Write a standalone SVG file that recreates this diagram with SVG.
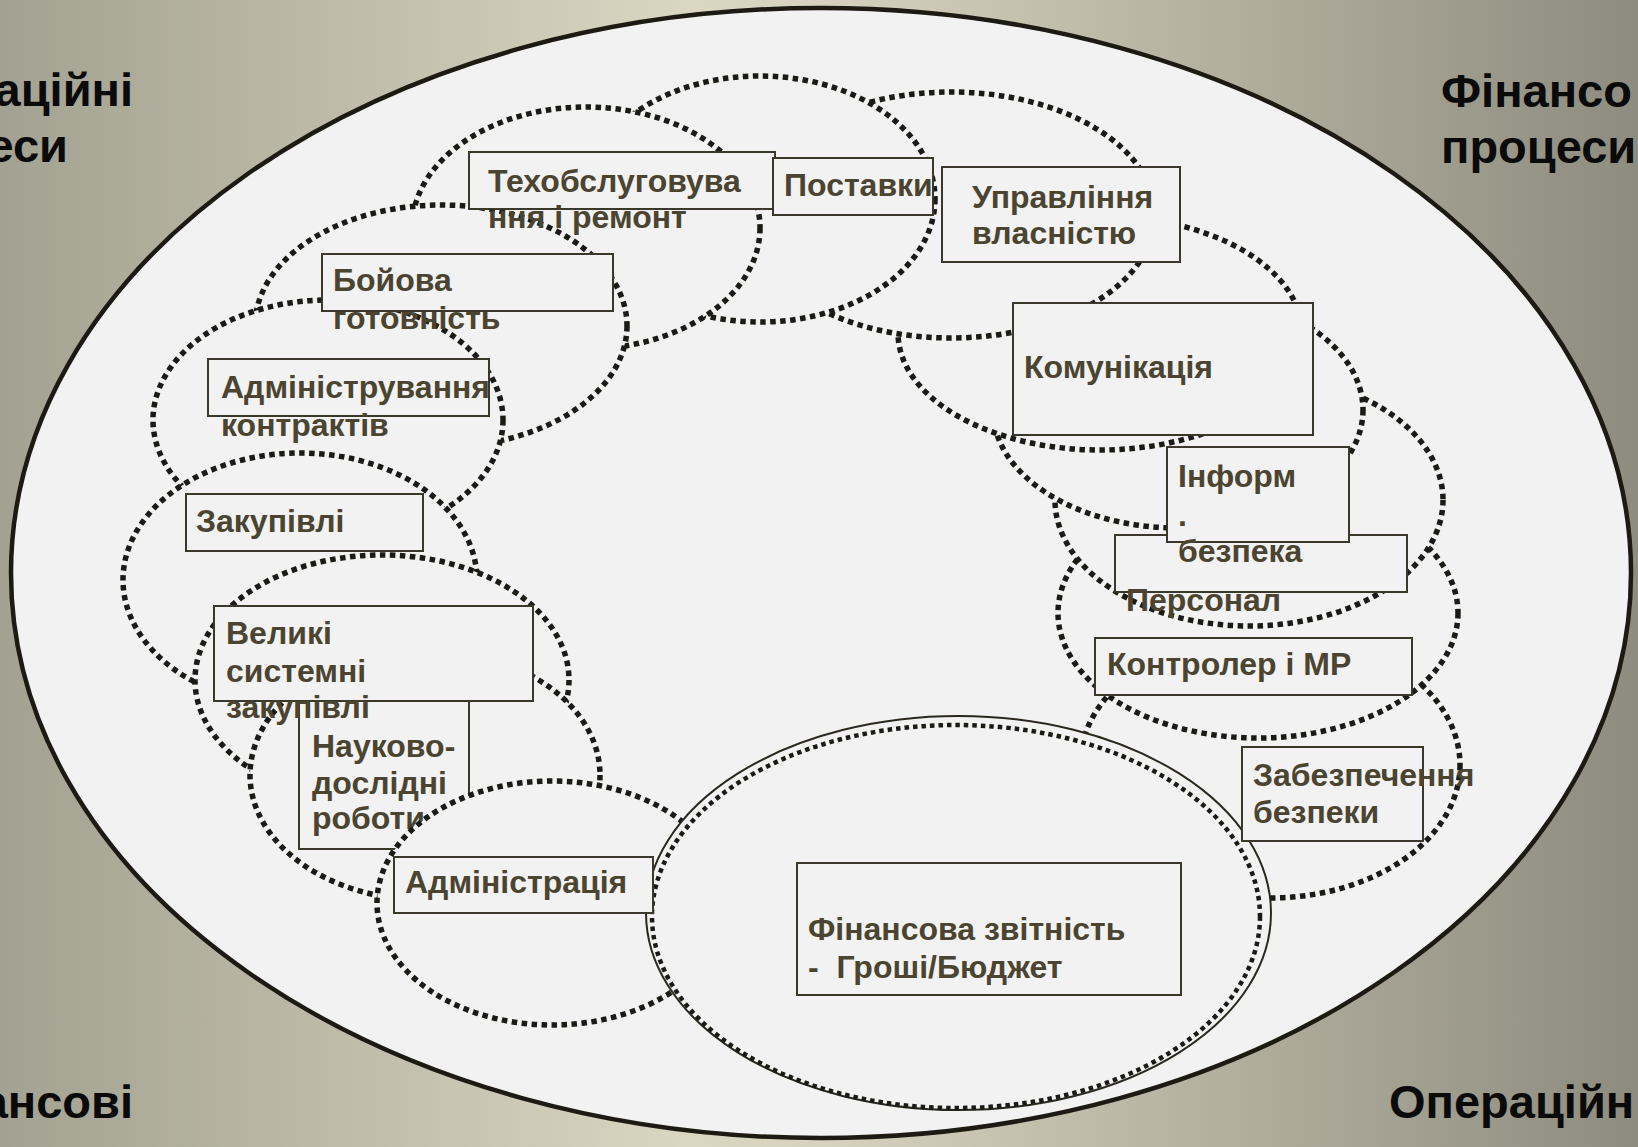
<svg xmlns="http://www.w3.org/2000/svg" width="1638" height="1147" viewBox="0 0 1638 1147">
<defs>
<linearGradient id="bg" x1="0" y1="0" x2="1" y2="0">
<stop offset="0" stop-color="#A3A191"/>
<stop offset="0.42" stop-color="#DAD6C2"/>
<stop offset="0.5" stop-color="#D6D2BE"/>
<stop offset="1" stop-color="#8E8C7F"/>
</linearGradient>
<style>
.ring{fill:#F2F2F2;stroke:#1A1A16;stroke-width:5.5;stroke-dasharray:5.5 4.5}
.box{fill:#F2F2F2;stroke:#3A382A;stroke-width:2}
.t{font-family:'Liberation Sans',Arial,sans-serif;font-weight:bold;font-size:32px;fill:#4A4430}
.corner{font-family:'Liberation Sans',Arial,sans-serif;font-weight:bold;font-size:47px;fill:#0A0A0A}
</style>
</defs>
<rect x="0" y="0" width="1638" height="1147" fill="url(#bg)"/>
<g id="corner-labels">
<text class="corner" x="133" y="106" text-anchor="end">аційні</text>
<text class="corner" x="68" y="162" text-anchor="end">еси</text>
<text class="corner" x="1441" y="107">Фінансо</text>
<text class="corner" x="1441" y="163">процеси</text>
<text class="corner" x="133" y="1118" text-anchor="end">ансові</text>
<text class="corner" x="1389" y="1118">Операційн</text>
</g>
<g id="outer">
<ellipse cx="821" cy="573" rx="810" ry="565" fill="#F2F2F2" stroke="#1C1A12" stroke-width="4.5"/>
</g>
<g id="rings">
<g id="ring-zabezpechennia"><ellipse class="ring" cx="1270" cy="765" rx="190" ry="133"/></g>
<g id="ring-kontroler"><ellipse class="ring" cx="1258" cy="613" rx="200" ry="125"/></g>
<g id="ring-personal"><ellipse class="ring" cx="1249" cy="500" rx="194" ry="126"/></g>
<g id="ring-inform"><ellipse class="ring" cx="1178" cy="410" rx="185" ry="118"/></g>
<g id="ring-komunikatsiia"><ellipse class="ring" cx="1100" cy="333" rx="202" ry="117"/></g>
<g id="ring-upravlinnia"><ellipse class="ring" cx="951" cy="215" rx="204" ry="123"/></g>
<g id="ring-postavky"><ellipse class="ring" cx="760" cy="199" rx="175" ry="123"/></g>
<g id="ring-tekhobsluh"><ellipse class="ring" cx="586" cy="228" rx="174" ry="121"/></g>
<g id="ring-boiova"><ellipse class="ring" cx="441" cy="326" rx="186" ry="121"/></g>
<g id="ring-admin-kontraktiv"><ellipse class="ring" cx="328" cy="420" rx="175" ry="120"/></g>
<g id="ring-zakupivli"><ellipse class="ring" cx="300" cy="580" rx="177" ry="127"/></g>
<g id="ring-velyki"><ellipse class="ring" cx="382" cy="680" rx="187" ry="125"/></g>
<g id="ring-naukovo"><ellipse class="ring" cx="425" cy="775" rx="175" ry="125"/></g>
</g>
<g id="node-naukovo">
<rect class="box" x="299" y="690" width="170" height="159"/>
<text class="t" x="312" y="757">Науково-</text>
<text class="t" x="312" y="794">дослідні</text>
<text class="t" x="312" y="829">роботи</text>
</g>
<g id="ring-administratsiia"><ellipse class="ring" cx="552" cy="903" rx="175" ry="122"/></g>
<g id="ring-finansova">
<ellipse cx="958.5" cy="913" rx="312.5" ry="197" fill="#F2F2F2" stroke="#2A281E" stroke-width="2"/>
<ellipse cx="956" cy="916.5" rx="304" ry="191.5" fill="none" stroke="#1A1A16" stroke-width="4.5" stroke-dasharray="4.5 4"/>
</g>
<g id="node-zabezpechennia">
<rect class="box" x="1242" y="747" width="181" height="94"/>
<text class="t" x="1253" y="786">Забезпечення</text>
<text class="t" x="1253" y="823">безпеки</text>
</g>
<g id="node-kontroler">
<rect class="box" x="1095" y="638" width="317" height="57"/>
<text class="t" x="1107" y="675">Контролер і МР</text>
</g>
<g id="node-personal">
<rect class="box" x="1115" y="535" width="292" height="57"/>
<text class="t" x="1126" y="611">Персонал</text>
</g>
<g id="node-inform">
<rect class="box" x="1167" y="447" width="182" height="95"/>
<text class="t" x="1178" y="487">Інформ</text>
<text class="t" x="1178" y="526">.</text>
<text class="t" x="1178" y="562">безпека</text>
</g>
<g id="node-komunikatsiia">
<rect class="box" x="1013" y="303" width="300" height="132"/>
<text class="t" x="1024" y="378">Комунікація</text>
</g>
<g id="node-upravlinnia">
<rect class="box" x="942" y="167" width="238" height="95"/>
<text class="t" x="972" y="208">Управління</text>
<text class="t" x="972" y="244">власністю</text>
</g>
<g id="node-tekhobsluh">
<rect class="box" x="469" y="152" width="306" height="57"/>
<text class="t" x="488" y="192">Техобслуговува</text>
<text class="t" x="488" y="228">ння і ремонт</text>
</g>
<g id="node-postavky">
<rect class="box" x="773" y="158" width="160" height="57"/>
<text class="t" x="784" y="196">Поставки</text>
</g>
<g id="node-boiova">
<rect class="box" x="322" y="254" width="291" height="57"/>
<text class="t" x="333" y="291">Бойова</text>
<text class="t" x="333" y="329">готовність</text>
</g>
<g id="node-admin-kontraktiv">
<rect class="box" x="208" y="359" width="281" height="57"/>
<text class="t" x="221" y="398">Адміністрування</text>
<text class="t" x="221" y="436">контрактів</text>
</g>
<g id="node-zakupivli">
<rect class="box" x="186" y="494" width="237" height="57"/>
<text class="t" x="196" y="532">Закупівлі</text>
</g>
<g id="node-velyki">
<rect class="box" x="214" y="606" width="319" height="95"/>
<text class="t" x="226" y="644">Великі</text>
<text class="t" x="226" y="682">системні</text>
<text class="t" x="226" y="718">закупівлі</text>
</g>
<g id="node-administratsiia">
<rect class="box" x="394" y="857" width="259" height="56"/>
<text class="t" x="405" y="893">Адміністрація</text>
</g>
<g id="node-finansova">
<rect class="box" x="797" y="863" width="384" height="132"/>
<text class="t" x="808" y="940">Фінансова звітність</text>
<text class="t" x="808" y="978" xml:space="preserve">-  Гроші/Бюджет</text>
</g>
</svg>
